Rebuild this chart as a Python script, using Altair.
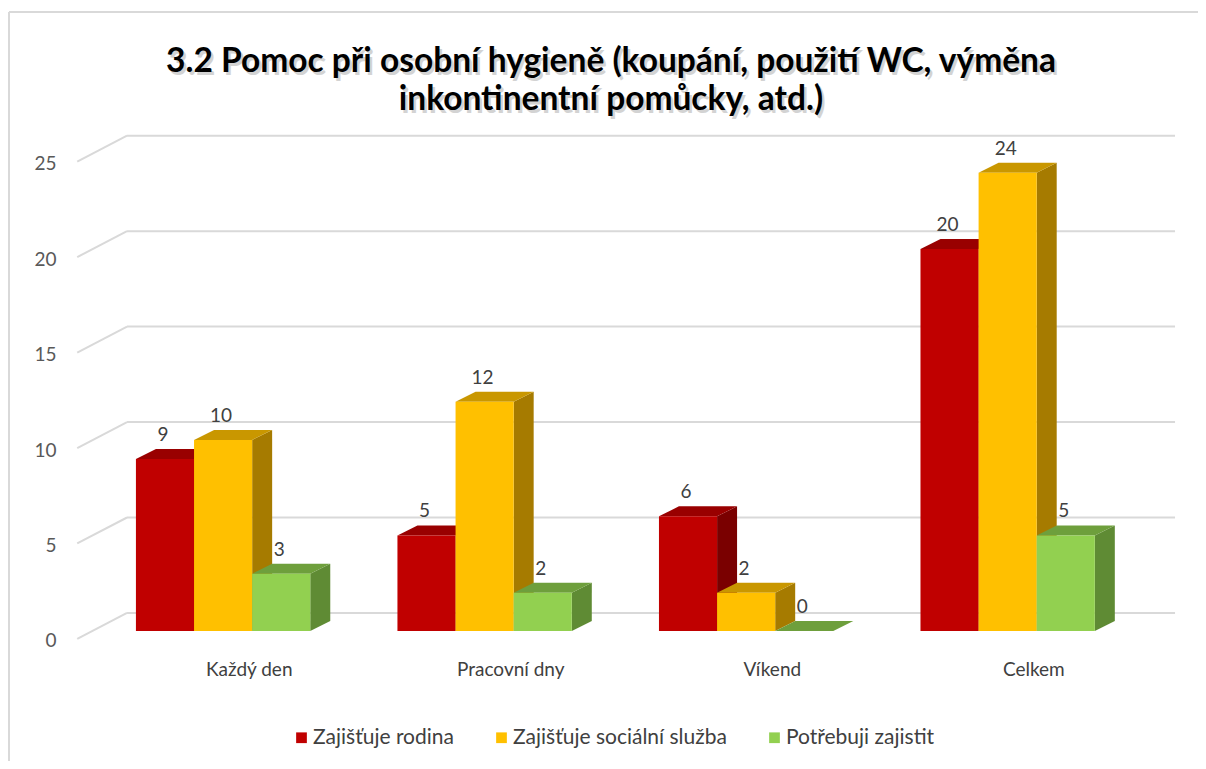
import altair as alt
import pandas as pd

# ---------------- data ----------------
categories = ["Každý den", "Pracovní dny", "Víkend", "Celkem"]
series_names = ["Zajišťuje rodina", "Zajišťuje sociální služba", "Potřebuji zajistit"]
rodina = [9, 5, 6, 20]
socialni = [10, 12, 2, 24]
potrebuji = [3, 2, 0, 5]
y_ticks = [0, 5, 10, 15, 20, 25]
title_lines = ["3.2 Pomoc při osobní hygieně (koupání, použití WC, výměna",
               "inkontinentní pomůcky, atd.)"]

# ---------------- style ----------------
front_colors = ["#C00000", "#FFC000", "#92D050"]
top_colors = ["#990000", "#C99700", "#6E9F3C"]
side_colors = ["#7A0000", "#A67B00", "#5F8B34"]
GRID = "#D9D9D9"
FONT = "Lato"

GROUP_STEP = 4.5   # distance between category groups (in bar widths)
BAR_W = 1.0
DX = 0.344         # 3D depth, horizontal (x units)
DY = 0.524         # 3D depth, vertical (y units)
BACK_DY = 0.94     # back wall offset (y units)
FRONT_DY = -0.42   # front wall offset (y units)
WALL_X0, WALL_X1, WALL_X2 = -1.01, -0.153, 17.88

X_DOMAIN = [-1.1, 18.0]
Y_DOMAIN = [-1.0, 26.5]
xs = alt.Scale(domain=X_DOMAIN, nice=False, zero=False)
ys = alt.Scale(domain=Y_DOMAIN, nice=False, zero=False)
yaxis = alt.Axis(values=y_ticks, grid=False, domain=False, ticks=False,
                 labelPadding=16, labelOffset=10, labelFont=FONT,
                 labelFontSize=19, labelColor="#595959", title=None)

# ---------------- tables ----------------
bar_rows, face_rows = [], []
for j, (name, vals) in enumerate(zip(series_names, [rodina, socialni, potrebuji])):
    for i, (cat, v) in enumerate(zip(categories, vals)):
        x0 = i * GROUP_STEP + j * BAR_W
        x1 = x0 + BAR_W
        bar_rows.append(dict(cat=cat, series=name, value=v, base=0,
                             x0=x0, x1=x1, xm=x0 + BAR_W / 2))
        sid = f"{i}-{j}-side"
        face_rows += [
            dict(s=j, fid=sid, px=x1, lo=0, hi=v, fill=side_colors[j]),
            dict(s=j, fid=sid, px=x1 + DX, lo=DY, hi=v + DY, fill=side_colors[j]),
        ]
        tid = f"{i}-{j}-top"
        face_rows += [
            dict(s=j, fid=tid, px=x0, lo=v, hi=v, fill=top_colors[j]),
            dict(s=j, fid=tid, px=x0 + DX, lo=v, hi=v + DY, fill=top_colors[j]),
            dict(s=j, fid=tid, px=x1, lo=v, hi=v + DY, fill=top_colors[j]),
            dict(s=j, fid=tid, px=x1 + DX, lo=v + DY, hi=v + DY, fill=top_colors[j]),
        ]
bars = pd.DataFrame(bar_rows)
faces = pd.DataFrame(face_rows)

grid_rows = []
for v in y_ticks:
    grid_rows.append(dict(gx=WALL_X1, gx2=WALL_X2, gy=v + BACK_DY, gy2=v + BACK_DY))
    grid_rows.append(dict(gx=WALL_X0, gx2=WALL_X1, gy=v + FRONT_DY, gy2=v + BACK_DY))
grid = pd.DataFrame(grid_rows)

cat_df = pd.DataFrame({"cat": categories,
                       "cx": [i * GROUP_STEP + 1.5 * BAR_W + 0.45 for i in range(len(categories))],
                       "cy": [-2.05] * len(categories)})

one = pd.DataFrame({"a": [0]})

# ---------------- layers ----------------
frame_top = alt.Chart(one).mark_rule(color=GRID, strokeWidth=2).encode(
    x=alt.value(-63), x2=alt.value(1300), y=alt.value(-113))
frame_left = alt.Chart(one).mark_rule(color=GRID, strokeWidth=2).encode(
    x=alt.value(-63), y=alt.value(-113), y2=alt.value(800))

title_layers = []
for k, line in enumerate(title_lines):
    ty = -63 + 38 * k
    title_layers.append(alt.Chart(one).mark_text(
        text=line, font=FONT, fontSize=33.5, fontWeight="bold", color="#A0A0A0",
        opacity=0.45, align="center", baseline="middle"
    ).encode(x=alt.value(541.5), y=alt.value(ty + 2.5)))
    title_layers.append(alt.Chart(one).mark_text(
        text=line, font=FONT, fontSize=33.5, fontWeight="bold", color="#000000",
        align="center", baseline="middle"
    ).encode(x=alt.value(539), y=alt.value(ty)))

grid_layer = alt.Chart(grid).mark_rule(color=GRID, strokeWidth=2).encode(
    x=alt.X("gx:Q", scale=xs, axis=None), x2="gx2:Q",
    y=alt.Y("gy:Q", scale=ys, axis=yaxis), y2="gy2:Q")

face_layers = []
for j in range(3):
    face_layers.append(
        alt.Chart(faces[faces.s == j]).mark_area(interpolate="linear").encode(
            x=alt.X("px:Q", scale=xs, axis=None),
            y=alt.Y("hi:Q", scale=ys, axis=yaxis),
            y2="lo:Q",
            detail="fid:N",
            fill=alt.Fill("fill:N", scale=None),
        )
    )

front = alt.Chart(bars).mark_bar().encode(
    x=alt.X("x0:Q", scale=xs, axis=None), x2="x1:Q",
    y=alt.Y("value:Q", scale=ys, axis=yaxis),
    y2="base:Q",
    color=alt.Color("series:N",
                    scale=alt.Scale(domain=series_names, range=front_colors),
                    legend=alt.Legend(orient="none", legendX=219, legendY=602,
                                      direction="horizontal", title=None,
                                      symbolType="square", symbolSize=115,
                                      symbolStrokeWidth=0, labelFont=FONT,
                                      labelFontSize=21, labelColor="#404040",
                                      columnPadding=37, labelOffset=1,
                                      padding=0, labelLimit=500)),
)

value_labels = alt.Chart(bars).mark_text(
    font=FONT, fontSize=19, color="#404040", baseline="middle", dy=-24, dx=-2
).encode(x=alt.X("xm:Q", scale=xs, axis=None),
         y=alt.Y("value:Q", scale=ys, axis=yaxis),
         text="value:Q")

cat_labels = alt.Chart(cat_df).mark_text(
    font=FONT, fontSize=19, color="#404040", baseline="middle"
).encode(x=alt.X("cx:Q", scale=xs, axis=None),
         y=alt.Y("cy:Q", scale=ys, axis=yaxis),
         text="cat:N")

layers = [frame_top, frame_left] + title_layers + [grid_layer] + face_layers + [front, value_labels, cat_labels]

chart = alt.layer(*layers).properties(
    width=1110, height=525,
    padding={"left": 64, "top": 117, "right": 16, "bottom": 111},
    autosize=alt.AutoSizeParams(type="none"),
).configure(view=alt.ViewConfig(stroke=None))

chart.save("out.html", embed_options={"renderer": "svg", "actions": False})
